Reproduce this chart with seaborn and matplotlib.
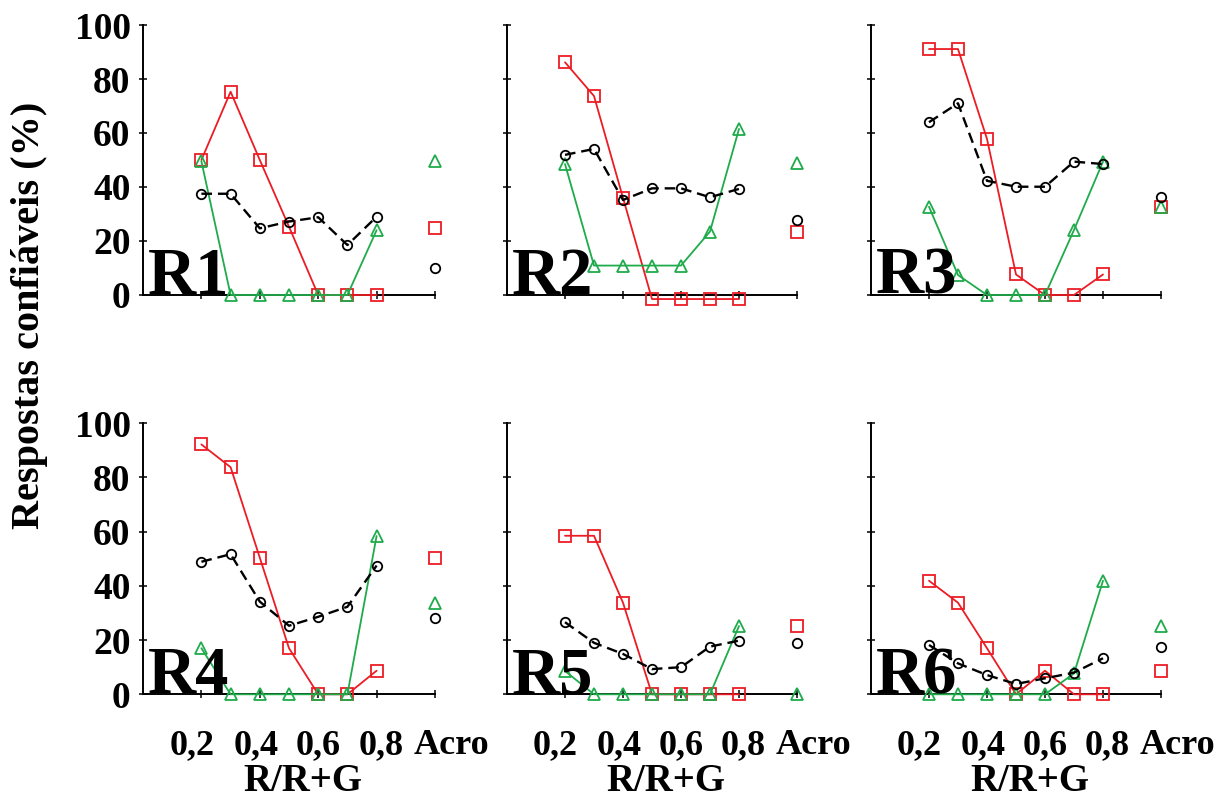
import matplotlib
matplotlib.use("Agg")
import matplotlib.pyplot as plt
import matplotlib.transforms as mtransforms
import numpy as np
import pandas as pd
import seaborn as sns

# Stimulus ratios R/(R+G) and the achromatic ("Acro") condition
ratios = [0.2, 0.3, 0.4, 0.5, 0.6, 0.7, 0.8]
acro_pos = 1.0
panels = ["R1", "R2", "R3", "R4", "R5", "R6"]
tick_values = [0.2, 0.4, 0.6, 0.8, 1.0]
tick_labels = ["0,2", "0,4", "0,6", "0,8", "Acro"]
y_ticks = [0, 20, 40, 60, 80, 100]

# Reliable responses (%) per subject
red_vals = {
    "R1": [50, 75.3, 50, 25.3, 0, 0, 0],
    "R2": [86.2, 73.7, 36, -1.5, -1.5, -1.5, -1.5],
    "R3": [91.1, 91.1, 57.8, 7.6, 0, 0, 7.6],
    "R4": [92.2, 83.8, 50.4, 17, 0, 0, 8.7],
    "R5": [58.5, 58.5, 33.8, 0, 0, 0, 0],
    "R6": [41.9, 33.8, 17, 0, 8.7, 0, 0],
}
green_vals = {
    "R1": [49.5, 0, 0, 0, 0, 0, 24],
    "R2": [48.5, 10.9, 10.9, 10.9, 10.9, 23.5, 61.5],
    "R3": [32.7, 7.4, 0, 0, 0, 24.1, 49.4],
    "R4": [17, 0, 0, 0, 0, 0, 58.4],
    "R5": [8.6, 0, 0, 0, 0, 0, 25.2],
    "R6": [0, 0, 0, 0, 0, 7.7, 41.9],
}
black_vals = {
    "R1": [37.5, 37.5, 24.7, 27.2, 28.8, 18.5, 29],
    "R2": [51.9, 54.1, 35.2, 39.5, 39.5, 36.2, 39.3],
    "R3": [64, 71, 42.3, 40.1, 40.1, 49.4, 48.5],
    "R4": [48.9, 51.7, 34.2, 25.3, 28.6, 32.3, 47.5],
    "R5": [26.6, 19, 14.9, 9.3, 10, 17.6, 19.8],
    "R6": [18.2, 11.4, 7.1, 3.8, 5.9, 8, 13.3],
}
red_acro = {"R1": 25, "R2": 23.5, "R3": 32.7, "R4": 50.4, "R5": 25.3, "R6": 8.6}
green_acro = {"R1": 49.5, "R2": 48.9, "R3": 32.7, "R4": 33.8, "R5": 0, "R6": 25.2}
black_acro = {"R1": 10.1, "R2": 27.8, "R3": 36.2, "R4": 28, "R5": 19, "R6": 17.6}

sns.set_style("ticks")
plt.rcParams["font.family"] = ["Liberation Serif", "DejaVu Serif"]
plt.rcParams["font.weight"] = "bold"
for key in ("text.color", "axes.labelcolor", "xtick.color", "ytick.color",
            "axes.edgecolor"):
    plt.rcParams[key] = "black"

RED = "#ec1c24"
GREEN = "#1fab4b"
BLACK = "#000000"

series_style = [
    # values, acro values, color, marker, markersize, linestyle, linewidth
    (red_vals, red_acro, RED, "s", 8.0, "-", 1.3),
    (green_vals, green_acro, GREEN, "^", 8.0, "-", 1.3),
    (black_vals, black_acro, BLACK, "o", 6.8, (0, (4.5, 2.5)), 1.7),
]

fig = plt.figure(figsize=(12.29, 8.01), dpi=100)
W, H = 1229.0, 801.0
col_px = [(143, 292), (507, 290), (871, 290)]
row_px = [(25, 295), (423.3, 694.3)]

axes = []
for i, name in enumerate(panels):
    r, c = divmod(i, 3)
    left, width = col_px[c]
    top, bottom = row_px[r]
    ax = fig.add_axes([left / W, 1 - bottom / H, width / W, (bottom - top) / H])
    axes.append(ax)

    for vals, acro, color, marker, ms, ls, lw in series_style:
        df = pd.DataFrame({"x": ratios, "y": vals[name]})
        sns.lineplot(data=df, x="x", y="y", ax=ax, color=color, marker=marker,
                     markersize=ms, markerfacecolor="none", markeredgecolor=color,
                     markeredgewidth=1.3, linestyle=ls, linewidth=lw,
                     estimator=None, sort=False, clip_on=False, zorder=3)
        da = pd.DataFrame({"x": [acro_pos], "y": [acro[name]]})
        sns.lineplot(data=da, x="x", y="y", ax=ax, color=color, marker=marker,
                     markersize=ms, markerfacecolor="none", markeredgecolor=color,
                     markeredgewidth=1.3, linestyle="none",
                     estimator=None, clip_on=False, zorder=3)

    ax.set_xlim(0, 1.0)
    ax.set_ylim(0, 100)
    ax.set_xlabel("")
    ax.set_ylabel("")
    sns.despine(ax=ax)
    for side in ("left", "bottom"):
        ax.spines[side].set_linewidth(1.4)
        ax.spines[side].set_color("black")

    ax.set_yticks(y_ticks)
    ax.set_xticks(tick_values)
    ax.tick_params(axis="y", direction="inout", length=6, width=1.1,
                   labelsize=27, pad=6, color="black", labelcolor="black")
    ax.tick_params(axis="x", direction="inout", length=6, width=1.1,
                   labelsize=26, pad=22, color="black", labelcolor="black")
    if c == 0:
        ax.set_yticklabels([str(v) for v in y_ticks], fontweight="bold")
    else:
        ax.set_yticklabels([])
    if r == 1:
        ax.set_xticklabels(tick_labels, fontweight="bold")
        offsets = [-7, -3, 0, 3, 12]
        for lab, dx in zip(ax.get_xticklabels(), offsets):
            lab.set_transform(lab.get_transform() +
                              mtransforms.ScaledTranslation(dx / 72, 0, fig.dpi_scale_trans))
        ax.set_xlabel("R/R+G", fontsize=28, fontweight="bold", color="black")
        ax.xaxis.set_label_coords(0.547, -0.255)
    else:
        ax.set_xticklabels([])

    ax.text(0.018, 0.004, name, transform=ax.transAxes, fontsize=48,
            fontweight="bold", ha="left", va="baseline", color="black", zorder=5)

fig.text(30 / W, 1 - 315 / H, "Respostas confiáveis (%)", rotation=90,
         fontsize=29, fontweight="bold", ha="center", va="center", color="black")

fig.savefig("out.png", dpi=100, facecolor="white")
